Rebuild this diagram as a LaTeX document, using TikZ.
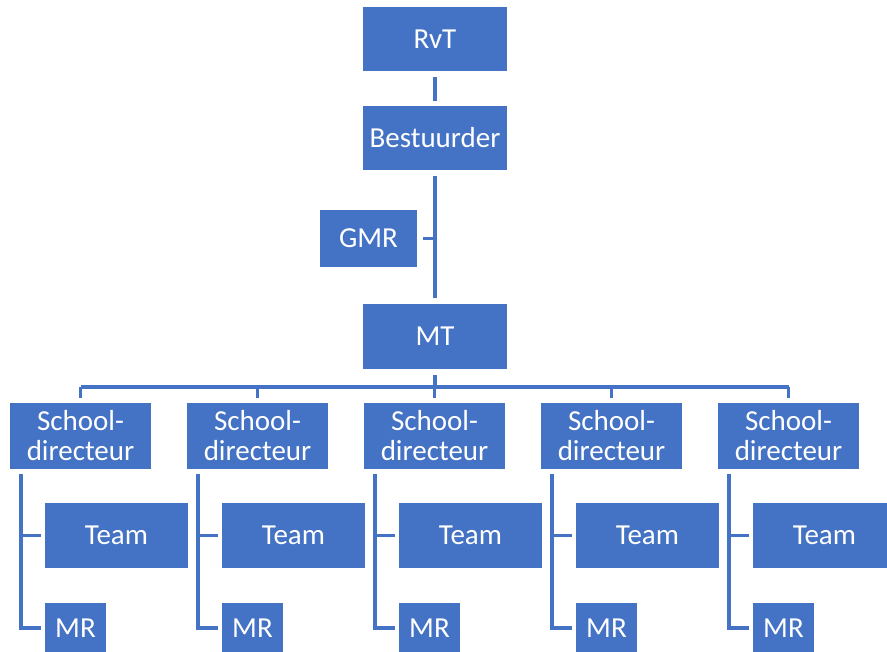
\documentclass[tikz,border=0pt]{standalone}
\usepackage{fontspec}
\setmainfont{Carlito}
\usetikzlibrary{calc}
\definecolor{boxblue}{RGB}{68,114,196}
\tikzset{
  orgbox/.style={fill=boxblue, text=white, inner sep=0pt, align=center,
    font=\fontsize{29}{30}\selectfont},
  conn/.style={draw=boxblue, line width=3.5pt}
}
\begin{document}
\begin{tikzpicture}[x=1pt,y=-1pt]
\useasboundingbox (0,0) rectangle (887,652);
\node[orgbox, minimum width=144pt, minimum height=64pt] (rvt) at (435,39) {RvT};
\node[orgbox, minimum width=144pt, minimum height=64pt] (best) at (435,138) {Bestuurder};
\node[orgbox, minimum width=97pt, minimum height=57pt] (gmr) at (368.5,238.5) {GMR};
\node[orgbox, minimum width=144pt, minimum height=65pt] (mt) at (435,336.5) {MT};
\coordinate (bar) at (435,387);
\foreach \i in {1,...,5}{
  \pgfmathsetmacro{\lx}{10+177*(\i-1)}
  \node[orgbox, minimum width=141pt, minimum height=66pt] (s\i) at (\lx+70.5,436) {School-\\directeur};
  \node[orgbox, minimum width=143pt, minimum height=65pt] (team\i) at (\lx+106.5,535.5) {Team};
  \node[orgbox, minimum width=61pt, minimum height=50pt] (mr\i) at (\lx+65.5,628) {MR};
  \coordinate (v\i) at (\lx+11,474);
  \draw[conn] (v\i) |- ([xshift=-4pt]mr\i.west);
  \draw[conn] ([xshift=-4pt]team\i.west) -- (team\i.west -| v\i);
  \draw[conn] ([yshift=5pt]s\i.north) -- (s\i.north |- bar);
}
\draw[conn] ([yshift=-6pt]rvt.south) -- ([yshift=5pt]best.north);
\draw[conn] ([yshift=-6pt]best.south) -- ([yshift=6pt]mt.north);
\draw[conn] ([xshift=6pt]gmr.east) -- (gmr.east -| best.south);
\draw[conn] ([yshift=-6pt]mt.south) -- (bar);
\draw[conn] (s1.north |- bar) -- (s5.north |- bar);
\end{tikzpicture}
\end{document}
